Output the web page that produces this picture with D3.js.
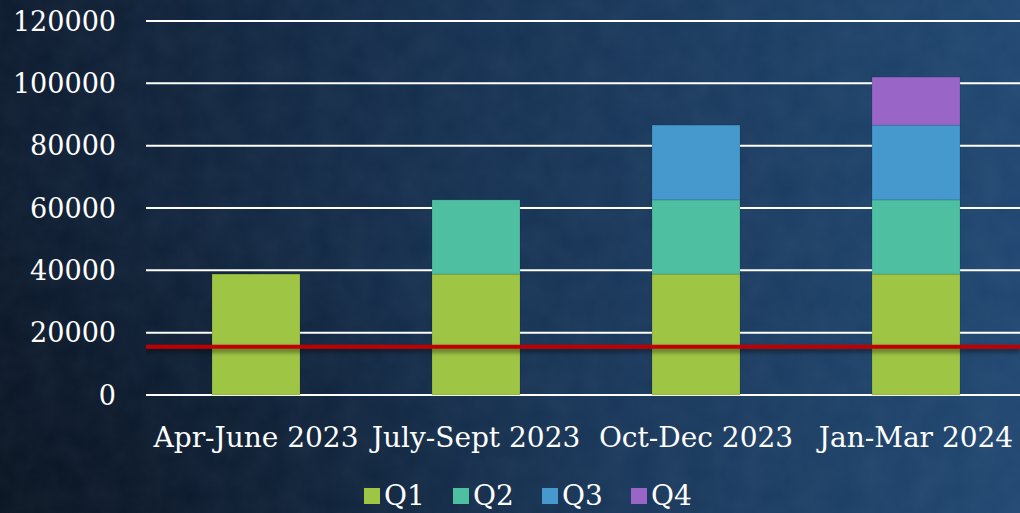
<!DOCTYPE html>
<html>
<head>
<meta charset="utf-8">
<script src="https://cdn.jsdelivr.net/npm/d3@7"></script>
<style>
  html, body { margin: 0; padding: 0; }
  body { width: 1020px; height: 513px; overflow: hidden; }
  text { font-family: "DejaVu Serif", serif; fill: #fff; }
</style>
</head>
<body>
<div id="chart"></div>
<script>
var categories = ["Apr-June 2023", "July-Sept 2023", "Oct-Dec 2023", "Jan-Mar 2024"];
var seriesNames = ["Q1", "Q2", "Q3", "Q4"];
var q1 = [38800, 38800, 38800, 38800];
var q2 = [0, 23800, 23800, 23800];
var q3 = [0, 0, 24000, 24000];
var q4 = [0, 0, 0, 15400];
var yTicks = [0, 20000, 40000, 60000, 80000, 100000, 120000];
var target = 15500;

var colors = ["#9fc545", "#4ebfa1", "#4599cc", "#9966c8"];

var W = 1020, H = 513;
var margin = {top: 21, right: -6, bottom: 118, left: 146};
var width = W - margin.left - margin.right,
    height = H - margin.top - margin.bottom;

var svg = d3.select("#chart").append("svg")
    .attr("width", W)
    .attr("height", H);

// background
var defs = svg.append("defs");
var grad = defs.append("linearGradient").attr("id", "bg")
    .attr("x1", "0%").attr("y1", "0%").attr("x2", "100%").attr("y2", "0%");
grad.append("stop").attr("offset", "0%").attr("stop-color", "#0c1a2d");
grad.append("stop").attr("offset", "45%").attr("stop-color", "#153050");
grad.append("stop").attr("offset", "100%").attr("stop-color", "#1f4670");

var vign = defs.append("radialGradient").attr("id", "vign")
    .attr("cx", "0%").attr("cy", "100%").attr("r", "60%");
vign.append("stop").attr("offset", "0%").attr("stop-color", "#050d18").attr("stop-opacity", 0.6);
vign.append("stop").attr("offset", "100%").attr("stop-color", "#050d18").attr("stop-opacity", 0);

var noise = defs.append("filter").attr("id", "noise")
    .attr("x", 0).attr("y", 0).attr("width", "100%").attr("height", "100%");
noise.append("feTurbulence").attr("type", "fractalNoise")
    .attr("baseFrequency", 0.035).attr("numOctaves", 3).attr("seed", 4);
noise.append("feColorMatrix").attr("type", "matrix")
    .attr("values", "0 0 0 0 0.5  0 0 0 0 0.6  0 0 0 0 0.75  0 0 0 0.07 0");

var shadow = defs.append("filter").attr("id", "shadow")
    .attr("filterUnits", "userSpaceOnUse")
    .attr("x", 0).attr("y", 0).attr("width", W).attr("height", H);
shadow.append("feDropShadow").attr("dx", 0).attr("dy", 3).attr("stdDeviation", 2.5)
    .attr("flood-color", "#000").attr("flood-opacity", 0.55);

svg.append("rect").attr("width", W).attr("height", H).attr("fill", "url(#bg)");
svg.append("rect").attr("width", W).attr("height", H).attr("fill", "url(#vign)");
svg.append("rect").attr("width", W).attr("height", H).attr("filter", "url(#noise)");

var g = svg.append("g")
    .attr("transform", "translate(" + margin.left + "," + margin.top + ")");

var x = d3.scaleBand()
    .domain(categories)
    .range([0, width])
    .paddingInner(0.6)
    .paddingOuter(0.3);

var y = d3.scaleLinear()
    .domain([0, 120000])
    .range([height, 0]);

// gridlines
g.selectAll(".grid")
    .data(yTicks)
    .enter().append("line")
    .attr("class", "grid")
    .attr("x1", 0)
    .attr("x2", W - margin.left)
    .attr("y1", function(d){ return y(d); })
    .attr("y2", function(d){ return y(d); })
    .attr("stroke", "#ffffff")
    .attr("stroke-width", 2);

// y labels
g.selectAll(".ylab")
    .data(yTicks)
    .enter().append("text")
    .attr("class", "ylab")
    .attr("x", -30)
    .attr("y", function(d){ return y(d); })
    .attr("dy", "0.36em")
    .attr("text-anchor", "end")
    .style("font-size", "27px")
    .text(function(d){ return d; });

// stacked bars
var rows = categories.map(function(c, i) {
    return {cat: c, Q1: q1[i], Q2: q2[i], Q3: q3[i], Q4: q4[i]};
});
var stack = d3.stack().keys(seriesNames)(rows);

var layers = g.selectAll(".layer")
    .data(stack)
    .enter().append("g")
    .attr("class", "layer")
    .attr("fill", function(d, i){ return colors[i]; });

layers.selectAll("rect")
    .data(function(d){ return d.filter(function(p){ return p[1] - p[0] > 0; }); })
    .enter().append("rect")
    .attr("x", function(d){ return x(d.data.cat); })
    .attr("y", function(d){ return y(d[1]); })
    .attr("width", x.bandwidth())
    .attr("height", function(d){ return y(d[0]) - y(d[1]); })
    .attr("stroke", "rgba(0,0,0,0.12)")
    .attr("stroke-width", 1);

// category labels
g.selectAll(".xlab")
    .data(categories)
    .enter().append("text")
    .attr("class", "xlab")
    .attr("x", function(d){ return x(d) + x.bandwidth() / 2; })
    .attr("y", height + 52)
    .attr("text-anchor", "middle")
    .style("font-size", "28px")
    .text(function(d){ return d; });

// target line
g.append("line")
    .attr("x1", -18)
    .attr("x2", W - margin.left)
    .attr("y1", y(target))
    .attr("y2", y(target))
    .attr("stroke", "#c00000")
    .attr("stroke-width", 4)
    .attr("filter", "url(#shadow)");

// legend
var legend = svg.append("g")
    .attr("transform", "translate(364,488)");
var item = legend.selectAll(".leg")
    .data(seriesNames)
    .enter().append("g")
    .attr("class", "leg")
    .attr("transform", function(d, i){ return "translate(" + (i * 89) + ",0)"; });
item.append("rect")
    .attr("width", 16)
    .attr("height", 16)
    .attr("fill", function(d, i){ return colors[i]; });
item.append("text")
    .attr("x", 20)
    .attr("y", 17)
    .style("font-size", "28px")
    .text(function(d){ return d; });
</script>
</body>
</html>
